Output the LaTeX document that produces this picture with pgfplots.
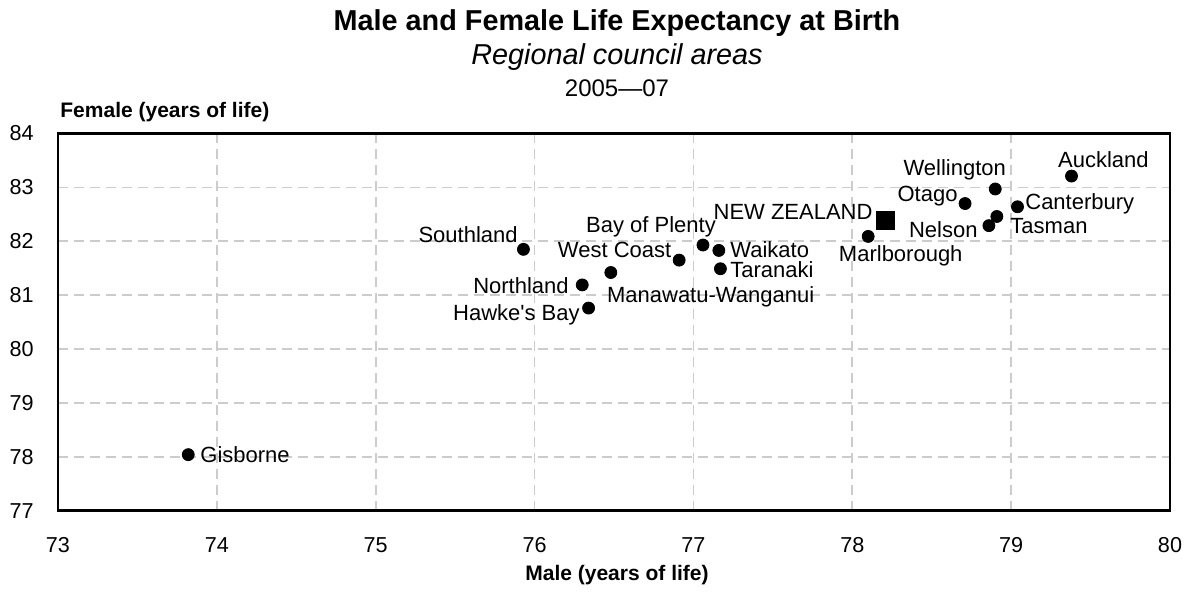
\documentclass[border=0pt]{standalone}
\usepackage{pgfplots}
\pgfplotsset{compat=1.18}
\usepackage{fontspec}
\setmainfont{Liberation Sans}[Ligatures=TeXOff]
\begin{document}
\begin{tikzpicture}
\begin{axis}[
  scale only axis,
  width=556pt, height=188.6pt,
  xmin=73, xmax=80, ymin=77, ymax=84,
  xtick={73,...,80}, ytick={77,...,84},
  major tick length=0pt,
  /pgf/number format/assume math mode=true,
  tick label style={font=\fontsize{10.8}{12}\selectfont},
  xticklabel style={anchor=center, inner sep=0pt, yshift=-17.15pt},
  yticklabel style={anchor=east, inner sep=0pt, xshift=-12pt},
  grid=major,
  major grid style={draw=black!20, line width=0.8pt, dash pattern=on 5pt off 3pt},
  axis line style={black, line width=1.2pt},
  clip=false,
]
\addplot[only marks, mark=*, mark size=3pt, black] coordinates {
(73.82,78.04) (75.93,81.85) (76.30,81.19) (76.34,80.76) (76.48,81.42)
(76.91,81.65) (77.06,81.93) (77.16,81.83) (77.17,81.49) (78.10,82.09)
(78.71,82.70) (78.90,82.97) (78.86,82.29) (78.91,82.46) (79.04,82.64)
(79.38,83.21)
};
\addplot[only marks, mark=square*, mark size=4.5pt, black] coordinates {(78.21,82.38)};
\begin{scope}[every node/.style={inner sep=0pt, font=\fontsize{11}{13}\selectfont}]
\node[anchor=west] at (axis cs:73.894,78.034) {Gisborne};
\node[anchor=east] at (axis cs:75.896,82.117) {Southland};
\node[anchor=east] at (axis cs:76.217,81.170) {Northland};
\node[anchor=east] at (axis cs:76.286,80.632) {Hawke's Bay};
\node[anchor=west] at (axis cs:76.454,80.972) {Manawatu-Wanganui};
\node[anchor=east] at (axis cs:76.863,81.838) {West Coast};
\node[anchor=center] at (axis cs:76.733,82.271) {Bay of Plenty};
\node[anchor=west] at (axis cs:77.230,81.838) {Waikato};
\node[anchor=west] at (axis cs:77.230,81.467) {Taranaki};
\node[anchor=east] at (axis cs:78.130,82.549) {NEW ZEALAND};
\node[anchor=center] at (axis cs:78.305,81.727) {Marlborough};
\node[anchor=east] at (axis cs:78.665,82.840) {Otago};
\node[anchor=center] at (axis cs:78.645,83.323) {Wellington};
\node[anchor=east] at (axis cs:78.791,82.209) {Nelson};
\node[anchor=west] at (axis cs:78.993,82.284) {Tasman};
\node[anchor=west] at (axis cs:79.087,82.686) {Canterbury};
\node[anchor=center] at (axis cs:79.581,83.508) {Auckland};
\end{scope}
\end{axis}
\node[font=\bfseries\fontsize{14.4}{16}\selectfont] at (279.5pt,243.85pt) {Male and Female Life Expectancy at Birth};
\node[font=\itshape\fontsize{14.4}{16}\selectfont] at (279.5pt,226.85pt) {Regional council areas};
\node[font=\fontsize{12}{14}\selectfont] at (279.5pt,211.35pt) {2005—07};
\node[font=\bfseries\fontsize{10.5}{12}\selectfont, anchor=west, inner sep=0pt] at (1pt,199.5pt) {Female (years of life)};
\node[font=\bfseries\fontsize{10.5}{12}\selectfont, inner sep=0pt] at (279.5pt,-32.15pt) {Male (years of life)};
\pgfresetboundingbox
\path (-29pt,-40.65pt) rectangle (567.5pt,255.35pt);
\end{tikzpicture}
\end{document}
